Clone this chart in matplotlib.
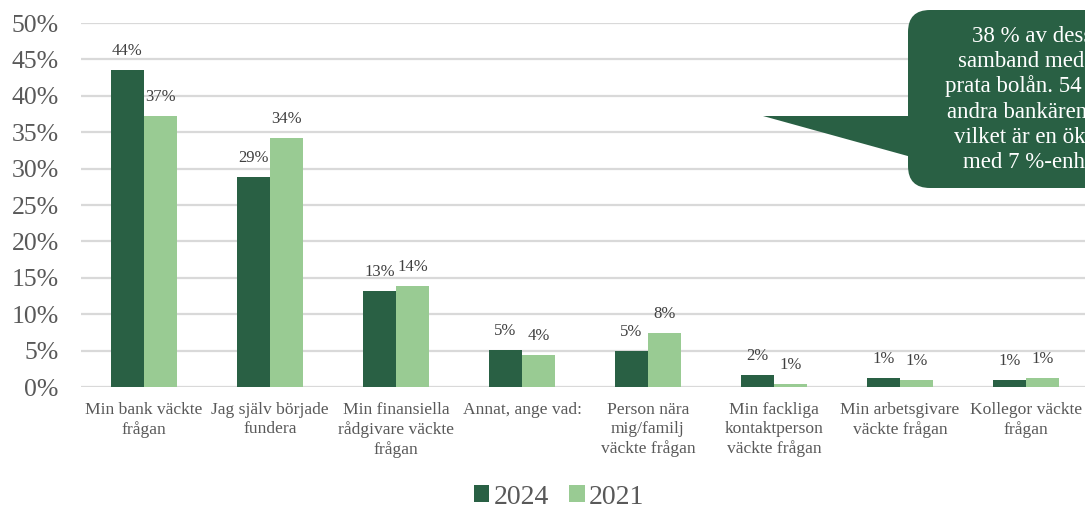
import matplotlib.pyplot as plt
import numpy as np
from matplotlib.patches import FancyBboxPatch, Polygon

plt.rcParams['font.family'] = ['Liberation Serif', 'DejaVu Serif']

categories = [
    "Min bank väckte\nfrågan",
    "Jag själv började\nfundera",
    "Min finansiella\nrådgivare väckte\nfrågan",
    "Annat, ange vad:",
    "Person nära\nmig/familj\nväckte frågan",
    "Min fackliga\nkontaktperson\nväckte frågan",
    "Min arbetsgivare\nväckte frågan",
    "Kollegor väckte\nfrågan",
]
v2024 = [43.5, 28.8, 13.2, 5.1, 4.9, 1.6, 1.2, 1.0]
v2021 = [37.2, 34.2, 13.9, 4.4, 7.4, 0.4, 1.0, 1.2]
lab2024 = ["44%", "29%", "13%", "5%", "5%", "2%", "1%", "1%"]
lab2021 = ["37%", "34%", "14%", "4%", "8%", "1%", "1%", "1%"]

# callout text, cut off at the right edge as in the source
bubble_lines = [
    "38 % av dess",
    "samband med",
    "prata bolån. 54",
    "andra bankären",
    "vilket är en ök",
    "med 7 %-enh",
]

DARK = "#296044"
LIGHT = "#99cb93"
GRAY = "#595959"
W, H = 1085, 508

fig = plt.figure(figsize=(W / 100, H / 100), dpi=100)
ax = fig.add_axes([81 / W, 1 - 387 / H, 1008 / W, 364 / H])

x = np.arange(len(categories))
bw = 0.262
b1 = ax.bar(x - bw / 2, v2024, bw, color=DARK, label="2024", zorder=3)
b2 = ax.bar(x + bw / 2, v2021, bw, color=LIGHT, label="2021", zorder=3)
ax.bar_label(b1, labels=lab2024, padding=8, fontsize=12, color="#404040")
ax.bar_label(b2, labels=lab2021, padding=8, fontsize=12, color="#404040")

ax.set_xlim(-0.5, len(categories) - 0.5)
ax.set_ylim(0, 50)
ax.set_yticks(np.arange(0, 51, 5))
ax.set_yticklabels([f"{t}%" for t in range(0, 51, 5)])
ax.set_xticks(x)
ax.set_xticklabels(categories, linespacing=1.25)
ax.grid(axis='y', color="#d9d9d9", linewidth=1.6, zorder=0)
for s in ax.spines.values():
    s.set_visible(False)
ax.tick_params(axis='y', length=0, pad=16, labelsize=18.5, labelcolor=GRAY)
ax.tick_params(axis='x', length=0, pad=11, labelsize=12.6, labelcolor=GRAY)

fig.legend(handles=[b1, b2], loc='center', bbox_to_anchor=(559 / W, 1 - 497 / H),
           ncol=2, frameon=False, fontsize=20, labelcolor=GRAY,
           handlelength=0.55, handleheight=0.55, handletextpad=0.15, columnspacing=0.75)

# callout bubble (pixel coords -> inches)
tr = fig.dpi_scale_trans
def px(xp, yp):
    return (xp / 100, (H - yp) / 100)

bx, by = px(908, 188)
box = FancyBboxPatch((bx, by), 3.0, 1.78, boxstyle="round,pad=0,rounding_size=0.22",
                     transform=tr, facecolor=DARK, edgecolor='none', zorder=10)
fig.patches.append(box)
tri = Polygon([px(763, 116), px(915, 116), px(915, 158)], closed=True,
              transform=tr, facecolor=DARK, edgecolor='none', zorder=10)
fig.patches.append(tri)

starts = [972, 958, 945, 947, 954, 963]
for i, (line, sx) in enumerate(zip(bubble_lines, starts)):
    tx, ty = px(sx, 42 + 25.2 * i)
    fig.text(tx, ty, line, transform=tr, ha='left', va='baseline',
             fontsize=16.5, color='white', zorder=11)

fig.savefig("out.png", dpi=100)
